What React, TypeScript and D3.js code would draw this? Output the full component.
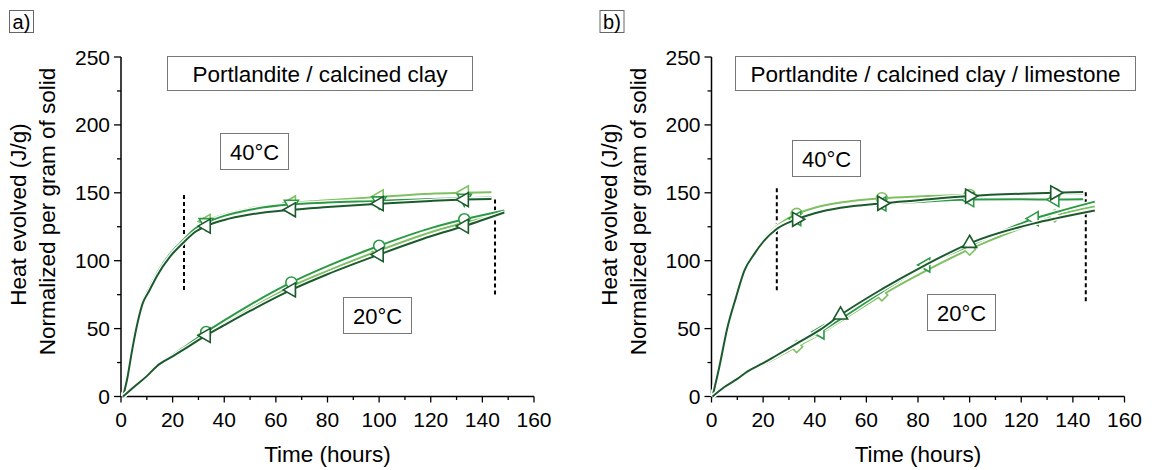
import React from "react";
import * as d3 from "d3";

// ---------- data ----------
const X_TICKS = [0, 20, 40, 60, 80, 100, 120, 140, 160];
const Y_TICKS = [0, 50, 100, 150, 200, 250];

// Panel a) Portlandite / calcined clay
const A40_T = [0.8, 2.5, 4.3, 6.5, 8.3, 11, 14, 19, 24, 29, 33, 40, 50, 66, 80, 100, 120, 133, 143.5];
const A40_LIGHT = [0, 14, 34, 55, 69, 80, 91, 105, 115, 124, 129, 134, 138.5, 142.5, 144.5, 147, 149.3, 150, 150.5];
const A40_MED = [0, 14, 34, 55, 69, 80, 91, 105, 115, 124, 128, 133, 137.5, 141.5, 142.8, 144, 145.5, 146, 146.5];
const A40_DARK = [0, 14, 34, 55, 68, 78, 89, 103, 113, 121.5, 125.5, 130, 134, 137.5, 139.5, 142, 144, 145, 145.5];

const A20_T = [0.8, 5, 10, 14, 20, 25, 33, 40, 50, 66, 80, 100, 120, 133, 148.5];
const A20_MED = [0, 7, 15.5, 23, 30.5, 37, 47.5, 56, 67.5, 84, 96, 111, 124, 130.5, 137];
const A20_LIGHT = [0, 7, 15.5, 23, 30, 36, 45.5, 53.5, 64.5, 81, 92.5, 107.5, 121, 128, 136];
const A20_DARK = [0, 7, 15, 22.5, 29.5, 35.5, 45, 52.5, 63, 78.5, 90, 104.5, 118, 125.5, 135.5];

// Panel b) Portlandite / calcined clay / limestone
const B40_T = [0.4, 3, 6.2, 9.5, 12.7, 16.6, 20.5, 25, 33, 40, 50, 66, 80, 100, 120, 133, 144];
const B40_LIGHT = [0, 23, 52.5, 74.5, 94, 106.5, 116.5, 125, 134.5, 139, 142.8, 146, 147.3, 148.4, 149, 149.3, 149.5];
const B40_MED = [0, 22, 51.5, 73.5, 93, 105.5, 115.5, 123.5, 131, 135.5, 139, 141.8, 143.3, 145, 145.2, 145, 145.2];
const B40_DARK = [0, 21.5, 51, 73, 92.5, 105, 115, 123, 130.5, 135, 139, 142.3, 144.5, 147.6, 149.3, 150, 150.5];

const B20_T = [0.4, 5, 10, 14, 20, 25, 33, 42, 50, 66, 83, 100, 125, 133, 148.5];
const B20_LIGHT = [0, 6.5, 12.5, 18, 23.5, 28.5, 36.7, 46, 55.5, 74.7, 92.5, 108.5, 127.5, 133, 140];
const B20_MED = [0, 7, 13, 18.5, 24.5, 30, 38.5, 47.5, 57, 77, 96.8, 111, 131, 135.5, 143.5];
const B20_DARK = [0, 7, 13, 18.5, 24.5, 30, 39, 49, 60, 79, 97, 112.8, 127.5, 131, 137];

// dashed guides: [t, yTop, yBottom]
const A_DASH = [[24.4, 148.4, 78.4], [144.9, 145, 74.7]];
const B_DASH = [[25.3, 153.3, 77.8], [145, 150.4, 69.8]];

const LIGHT = "#7fc062";
const MED = "#2c9a45";
const DARK = "#1b5a2c";

type Series = { t: number[]; v: number[]; color: string; marker: string; marks: number[] };

const PANEL_A: Series[] = [
  { t: A40_T, v: A40_LIGHT, color: LIGHT, marker: "left", marks: [33, 66, 100, 133] },
  { t: A40_T, v: A40_MED, color: MED, marker: "down", marks: [33, 66, 100, 133] },
  { t: A40_T, v: A40_DARK, color: DARK, marker: "left", marks: [33, 66, 100, 133] },
  { t: A20_T, v: A20_LIGHT, color: LIGHT, marker: "left", marks: [33, 66, 100, 133] },
  { t: A20_T, v: A20_MED, color: MED, marker: "circle", marks: [33, 66, 100, 133] },
  { t: A20_T, v: A20_DARK, color: DARK, marker: "left", marks: [33, 66, 100, 133] },
];

const PANEL_B: Series[] = [
  { t: B40_T, v: B40_LIGHT, color: LIGHT, marker: "circle", marks: [33, 66, 100, 133] },
  { t: B40_T, v: B40_MED, color: MED, marker: "left", marks: [33, 66, 100, 133] },
  { t: B40_T, v: B40_DARK, color: DARK, marker: "right", marks: [33, 66, 100, 133] },
  { t: B20_T, v: B20_LIGHT, color: LIGHT, marker: "diamond", marks: [33, 66, 100, 133] },
  { t: B20_T, v: B20_MED, color: MED, marker: "left", marks: [42, 83, 125] },
  { t: B20_T, v: B20_DARK, color: DARK, marker: "up", marks: [50, 100] },
];

const FONT = "Liberation Sans, Arial, sans-serif";

function markerPath(kind: string): { d: string; rot: number } {
  if (kind === "circle") return { d: d3.symbol(d3.symbolCircle, 95)() as string, rot: 0 };
  if (kind === "diamond") return { d: d3.symbol(d3.symbolSquare, 70)() as string, rot: 45 };
  const d = d3.symbol(d3.symbolTriangle, 85)() as string;
  const rot = kind === "left" ? -90 : kind === "right" ? 90 : kind === "down" ? 180 : 0;
  return { d, rot };
}

function Panel(props: {
  ox: number;
  letter: string;
  legend: string;
  legendBox: [number, number];
  series: Series[];
  dashes: number[][];
  box40: [number, number];
  box20: [number, number];
}) {
  const { ox, letter, legend, legendBox, series, dashes, box40, box20 } = props;
  const x = d3.scaleLinear().domain([0, 160]).range([ox + 121, ox + 534]);
  const y = d3.scaleLinear().domain([0, 250]).range([396.5, 57]);
  const line = d3
    .line<[number, number]>()
    .x((d) => x(d[0]))
    .y((d) => y(d[1]))
    .curve(d3.curveMonotoneX);
  const x0 = x(0);
  const y0 = y(0);
  const xMinor = d3.range(0, 161, 10);
  const yMinor = d3.range(0, 251, 25);

  return (
    <g fontFamily={FONT} fill="#000">
      {/* panel letter */}
      <rect x={ox + 9.5} y={10.5} width={24} height={22} fill="none" stroke="#666" strokeWidth={1} />
      <text x={ox + 21.5} y={28.5} fontSize={20} textAnchor="middle">{letter}</text>

      {/* axes */}
      <line x1={x0} x2={x0} y1={y(250)} y2={y0} stroke="#000" strokeWidth={1.5} />
      <line x1={x0} x2={x(160)} y1={y0} y2={y0} stroke="#000" strokeWidth={1.5} />
      {yMinor.map((v) => (
        <line key={"ym" + v} x1={x0} x2={x0 - (v % 50 === 0 ? 7 : 4)} y1={y(v)} y2={y(v)} stroke="#000" strokeWidth={1.3} />
      ))}
      {xMinor.map((v) => (
        <line key={"xm" + v} x1={x(v)} x2={x(v)} y1={y0} y2={y0 + (v % 20 === 0 ? 6 : 3.5)} stroke="#000" strokeWidth={1.3} />
      ))}
      {Y_TICKS.map((v) => (
        <text key={"yl" + v} x={x0 - 11} y={y(v)} dy="0.36em" fontSize={21} textAnchor="end">{v}</text>
      ))}
      {X_TICKS.map((v) => (
        <text key={"xl" + v} x={x(v)} y={426.5} fontSize={21} textAnchor="middle">{v}</text>
      ))}
      <text x={(x0 + x(160)) / 2} y={461.5} fontSize={22.5} textAnchor="middle">Time (hours)</text>
      <text transform={`translate(${ox + 26},${214.5}) rotate(-90)`} fontSize={22.5} textAnchor="middle">Heat evolved (J/g)</text>
      <text transform={`translate(${ox + 55},${211.5}) rotate(-90)`} fontSize={22.5} textAnchor="middle">Normalized per gram of solid</text>

      {/* legend boxes */}
      <rect x={legendBox[0]} y={56.5} width={legendBox[1]} height={34} fill="#fff" stroke="#777" strokeWidth={1} />
      <text x={legendBox[0] + legendBox[1] / 2} y={81.5} fontSize={22.5} textAnchor="middle">{legend}</text>
      <rect x={box40[0]} y={box40[1]} width={68} height={36} fill="#fff" stroke="#777" strokeWidth={1} />
      <text x={box40[0] + 34} y={box40[1] + 26} fontSize={22} textAnchor="middle">40°C</text>
      <rect x={box20[0]} y={box20[1]} width={68} height={36} fill="#fff" stroke="#777" strokeWidth={1} />
      <text x={box20[0] + 34} y={box20[1] + 26} fontSize={22} textAnchor="middle">20°C</text>

      {/* dashed guides */}
      {dashes.map((d, i) => (
        <line key={"dash" + i} x1={x(d[0])} x2={x(d[0])} y1={y(d[1])} y2={y(d[2])} stroke="#000" strokeWidth={2} strokeDasharray="4 3" />
      ))}

      {/* series */}
      {series.map((s, i) => {
        const pts = s.t.map((t, j) => [t, s.v[j]] as [number, number]);
        const d = line(pts) as string;
        const m = markerPath(s.marker);
        return (
          <g key={"s" + i}>
            <path d={d} fill="none" stroke="#fff" strokeWidth={4.5} />
            <path d={d} fill="none" stroke={s.color} strokeWidth={2} />
            {s.marks.map((t) => {
              const j = s.t.indexOf(t);
              const v = s.v[j];
              return (
                <path
                  key={"m" + t}
                  d={m.d}
                  transform={`translate(${x(t)},${y(v)}) rotate(${m.rot})`}
                  fill="#fff"
                  stroke={s.color}
                  strokeWidth={1.6}
                />
              );
            })}
          </g>
        );
      })}
    </g>
  );
}

export default function App() {
  return (
    <svg
      width={1155}
      height={470}
      viewBox="0 0 1155 470"
      style={{ position: "absolute", left: 0, top: 0, background: "#fff" }}
    >
      <rect width={1155} height={470} fill="#fff" />
      <Panel
        ox={0}
        letter="a)"
        legend="Portlandite / calcined clay"
        legendBox={[167.5, 305]}
        series={PANEL_A}
        dashes={A_DASH}
        box40={[220.5, 133.5]}
        box20={[343.5, 297.5]}
      />
      <Panel
        ox={590.5}
        letter="b)"
        legend="Portlandite / calcined clay / limestone"
        legendBox={[735.5, 400]}
        series={PANEL_B}
        dashes={B_DASH}
        box40={[792.5, 140.5]}
        box20={[927.5, 294.5]}
      />
    </svg>
  );
}
